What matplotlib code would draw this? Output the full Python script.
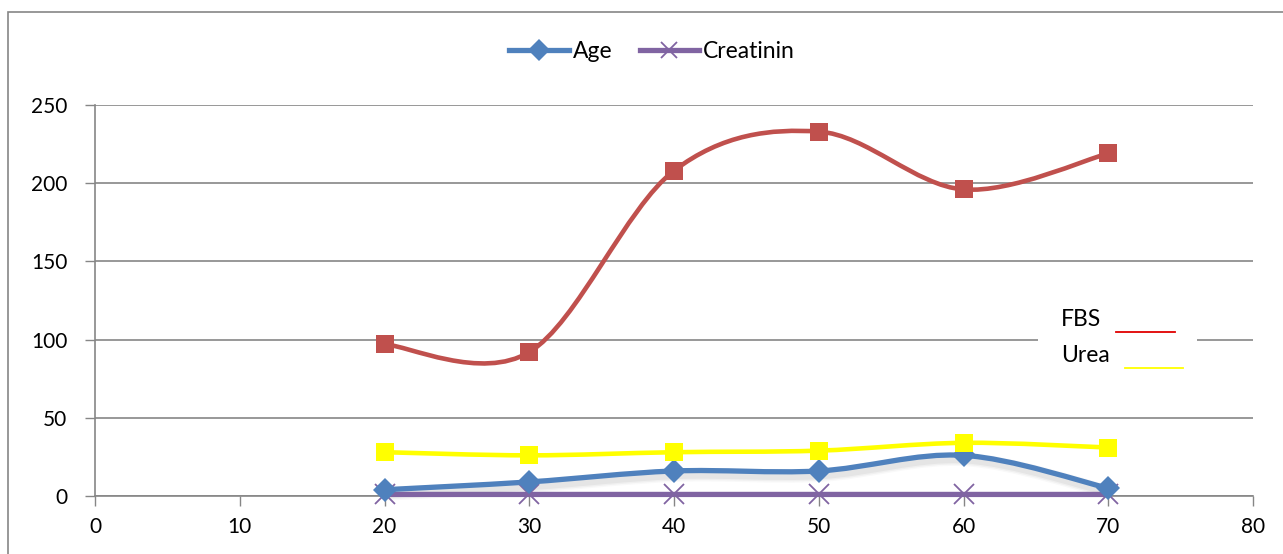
import matplotlib
matplotlib.use("Agg")
import matplotlib.pyplot as plt
from matplotlib.path import Path
from matplotlib.patches import PathPatch, Rectangle
from matplotlib.lines import Line2D
import matplotlib.transforms as mtransforms
import numpy as np

plt.rcParams['font.family'] = ['Lato', 'DejaVu Sans']

x_vals = [20, 30, 40, 50, 60, 70]
fbs = [97, 92, 208, 233, 196, 219]
urea = [28, 26, 28, 29, 34, 31]
age = [4, 9, 16, 16, 26, 5]
creatinin = [1.0, 1.0, 1.0, 1.0, 1.0, 1.0]

x_ticks = [0, 10, 20, 30, 40, 50, 60, 70, 80]
y_ticks = [0, 50, 100, 150, 200, 250]

W, H = 1283, 554
fig = plt.figure(figsize=(W / 100, H / 100), dpi=100)
ax = fig.add_axes([95 / W, 1 - 496 / H, (1253 - 95) / W, (496 - 105) / H])


def smooth_path(xs, ys):
    pts = np.column_stack([xs, ys]).astype(float)
    n = len(pts)
    verts = [pts[0]]
    codes = [Path.MOVETO]
    for i in range(n - 1):
        p0 = pts[i - 1] if i > 0 else pts[i]
        p1 = pts[i]
        p2 = pts[i + 1]
        p3 = pts[i + 2] if i + 2 < n else pts[i + 1]
        c1 = p1 + (p2 - p0) / 6.0
        c2 = p2 - (p3 - p1) / 6.0
        verts += [c1, c2, p2]
        codes += [Path.CURVE4] * 3
    return Path(verts, codes)


def draw_series(xs, ys, color, lw, marker, ms, mew=1, shadow=False, z=3):
    path = smooth_path(xs, ys)
    if shadow:
        for k, a in [(6, 0.025), (4, 0.035), (2, 0.045)]:
            tr = mtransforms.offset_copy(ax.transData, fig=fig, x=1.5, y=-3, units='points')
            sp = PathPatch(path, facecolor='none', edgecolor='black', alpha=a,
                           lw=lw + k, transform=tr, zorder=2.9, clip_on=False)
            ax.add_patch(sp)
    patch = PathPatch(path, facecolor='none', edgecolor=color,
                      lw=lw, zorder=z, capstyle='round', joinstyle='round', clip_on=False)
    ax.add_patch(patch)
    if marker == 'x':
        ax.plot(xs, ys, linestyle='none', marker='x', ms=ms, mew=mew,
                color=color, zorder=z + 0.5, clip_on=False)
    else:
        ax.plot(xs, ys, linestyle='none', marker=marker, ms=ms, mew=0,
                color=color, zorder=z + 0.5, clip_on=False)


draw_series(x_vals, creatinin, '#8064A2', 3.8, 'x', 15, mew=1.3, z=3)
draw_series(x_vals, age, '#4F81BD', 3.8, 'D', 12, shadow=True, z=4)
draw_series(x_vals, urea, '#FFFF00', 3.3, 's', 13, z=5)
draw_series(x_vals, fbs, '#C0504D', 3.3, 's', 13, z=6)

ax.set_xlim(0, 80)
ax.set_ylim(0, 250)
ax.set_xticks(x_ticks)
ax.set_yticks(y_ticks)
ax.tick_params(axis='both', labelsize=15, colors='#868686', labelcolor='black',
               width=1, length=7, direction='out', pad=8)
ax.tick_params(axis='y', pad=13)
ax.grid(axis='y', color='#868686', lw=1.2, zorder=1)
ax.set_axisbelow(True)
for s in ['top', 'right']:
    ax.spines[s].set_visible(False)
for s in ['left', 'bottom']:
    ax.spines[s].set_color('#868686')
    ax.spines[s].set_linewidth(1.2)

handles = [
    Line2D([], [], color='#4F81BD', lw=3.8, marker='D', ms=11, mew=0),
    Line2D([], [], color='#8064A2', lw=3.8, marker='x', ms=12, mew=1.3),
]
fig.legend(handles, ['Age', 'Creatinin'], loc='center', bbox_to_anchor=(652 / W, 1 - 52 / H),
           ncol=2, frameon=False, fontsize=16.5, handlelength=2.6, columnspacing=1.2,
           handletextpad=0.15)

# text box for FBS / Urea
fig.patches.append(Rectangle((1038 / W, 1 - 380 / H), (1197 - 1038) / W, 80 / H,
                             transform=fig.transFigure, facecolor='white',
                             edgecolor='none', zorder=5))
fig.text(1061 / W, 1 - 320 / H, 'FBS', fontsize=16.5, va='center', ha='left', zorder=6)
fig.text(1061 / W, 1 - 355 / H, 'Urea', fontsize=16.5, va='center', ha='left', zorder=6)
fig.lines.append(Line2D([1116 / W, 1175 / W], [1 - 332 / H, 1 - 332 / H],
                        transform=fig.transFigure, color='#E00000', lw=1.3, zorder=6))
fig.lines.append(Line2D([1125 / W, 1183 / W], [1 - 368 / H, 1 - 368 / H],
                        transform=fig.transFigure, color='#FFFF00', lw=1.3, zorder=6))

# outer chart border
fig.patches.append(Rectangle((8 / W, -0.1), 1.2, 1 - 12 / H + 0.1,
                             transform=fig.transFigure, facecolor='none',
                             edgecolor='#868686', lw=1.2, zorder=0))

fig.savefig('out.png', dpi=100)
